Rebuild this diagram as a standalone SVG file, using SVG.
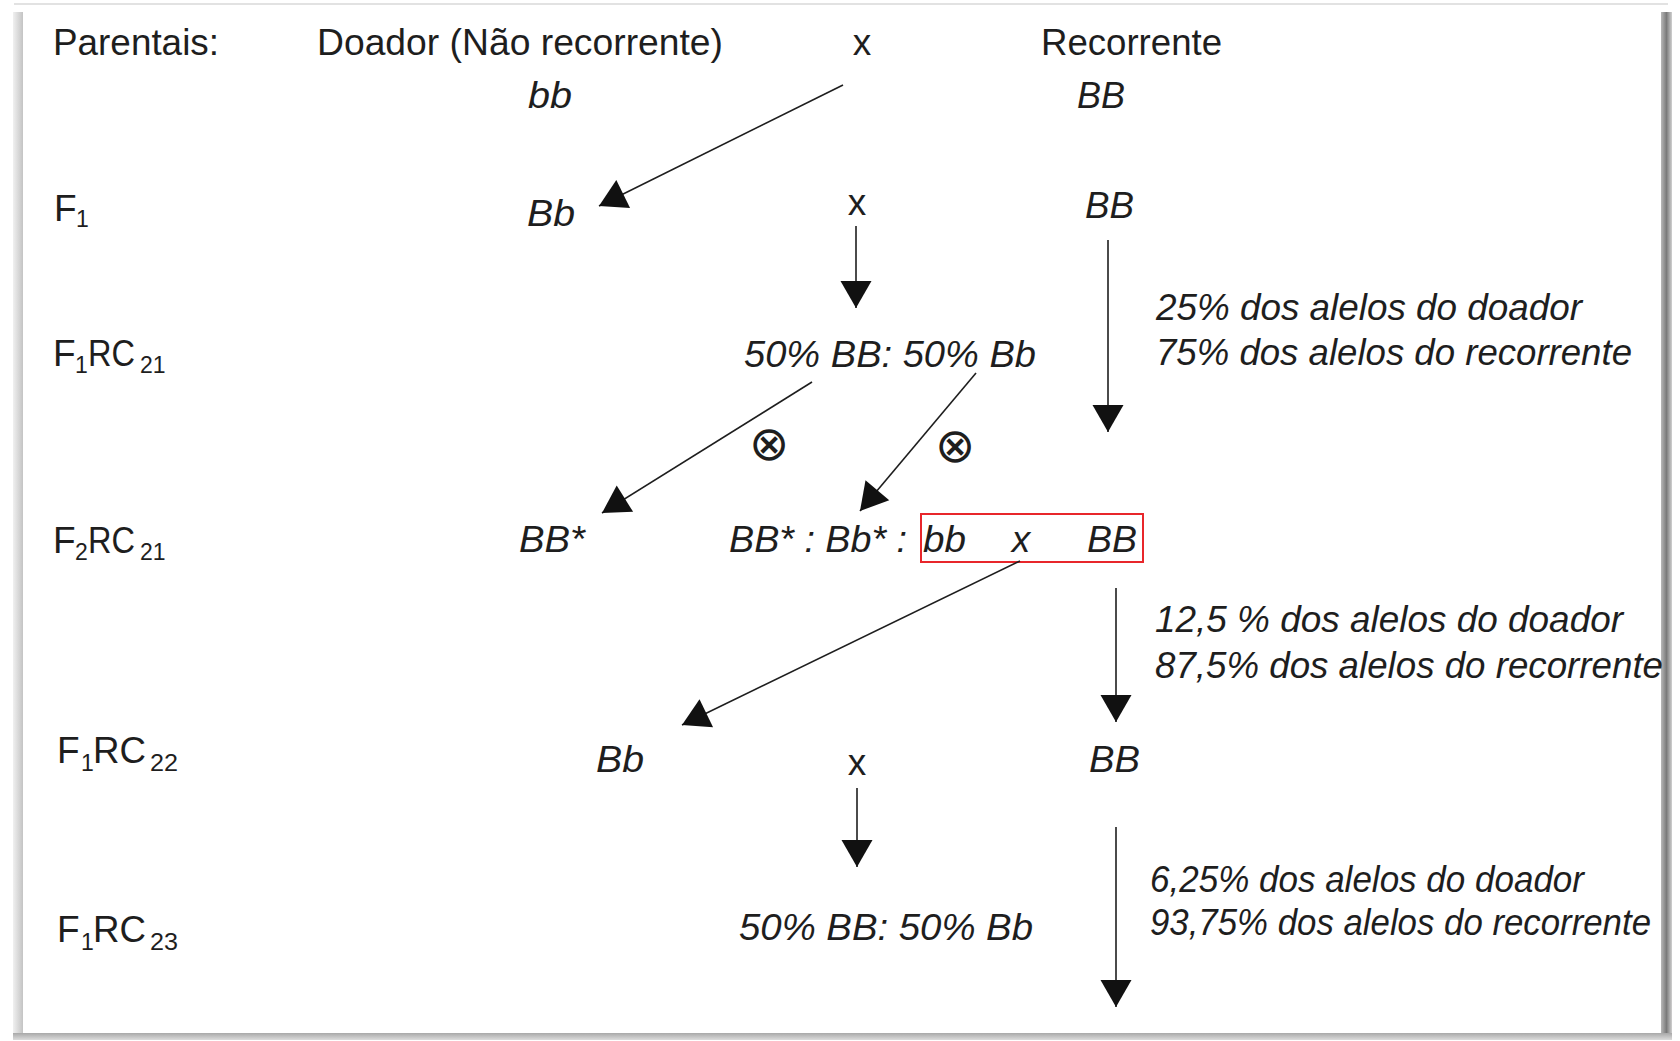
<svg xmlns="http://www.w3.org/2000/svg" width="1680" height="1041" viewBox="0 0 1680 1041">
<defs>
<style>
text{font-family:"Liberation Sans",Arial,sans-serif;font-size:37px;fill:#1e1e1e}
.i{font-style:italic}
.sub{font-size:23px}
.sym{font-family:"DejaVu Sans",sans-serif;font-size:48px;text-anchor:middle}
.mid{text-anchor:middle}
.conn line{stroke:#1e1e1e;stroke-width:1.6;fill:none;marker-end:url(#ah)}
</style>
<marker id="ah" markerUnits="userSpaceOnUse" markerWidth="30" markerHeight="32" viewBox="-28 -16 30 32" refX="0" refY="0" orient="auto">
<path d="M0,0 L-27,-15.5 L-27,15.5 Z" fill="#111"/>
</marker>
<linearGradient id="gl" x1="0" y1="0" x2="1" y2="0"><stop offset="0" stop-color="#f0f0f0"/><stop offset="1" stop-color="#c4c4c4"/></linearGradient>
<linearGradient id="gr" x1="0" y1="0" x2="1" y2="0"><stop offset="0" stop-color="#b8b8b8"/><stop offset="0.5" stop-color="#7a7a7a"/><stop offset="1" stop-color="#d0d0d0"/></linearGradient>
<linearGradient id="gb" x1="0" y1="0" x2="0" y2="1"><stop offset="0" stop-color="#a8a8a8"/><stop offset="1" stop-color="#dcdcdc"/></linearGradient>
</defs>
<rect x="0" y="0" width="1680" height="1041" fill="#ffffff"/>
<g id="frame">
<line x1="14" y1="4" x2="1668" y2="4" stroke="#d8d8d8" stroke-width="1.5"/>
<rect x="13" y="12" width="10" height="1027" fill="url(#gl)"/>
<rect x="1661" y="12" width="11" height="1027" fill="url(#gr)"/>
<rect x="13" y="1033" width="1659" height="7" fill="url(#gb)"/>
</g>
<g id="row-parentais">
<text x="53" y="55" textLength="166" lengthAdjust="spacingAndGlyphs">Parentais:</text>
</g>
<g id="doador-label"><text x="317" y="55" textLength="406" lengthAdjust="spacingAndGlyphs">Doador (Não recorrente)</text></g>
<g id="cross-0"><text class="mid" x="862" y="55">x</text></g>
<g id="recorrente-label"><text x="1041" y="55" textLength="181" lengthAdjust="spacingAndGlyphs">Recorrente</text></g>
<g id="p-bb"><text class="i" x="528" y="108" textLength="44" lengthAdjust="spacingAndGlyphs">bb</text></g>
<g id="p-BB"><text class="i" x="1077" y="108" textLength="48" lengthAdjust="spacingAndGlyphs">BB</text></g>

<g id="label-F1"><text x="54" y="221">F<tspan class="sub" x="76" y="227">1</tspan></text></g>
<g id="f1-Bb"><text class="i" x="527" y="226" textLength="48" lengthAdjust="spacingAndGlyphs">Bb</text></g>
<g id="cross-1"><text class="mid" x="857" y="215">x</text></g>
<g id="f1-BB"><text class="i" x="1085" y="218" textLength="49" lengthAdjust="spacingAndGlyphs">BB</text></g>

<g id="label-F1RC21"><text x="53" y="366">F<tspan class="sub" x="75" y="373">1</tspan><tspan x="88" y="366" textLength="47" lengthAdjust="spacingAndGlyphs">RC</tspan><tspan class="sub" x="140" y="373">21</tspan></text></g>
<g id="rc21-pop"><text class="i" x="744" y="367" textLength="292" lengthAdjust="spacingAndGlyphs">50% BB: 50% Bb</text></g>
<g id="note-1">
<text class="i" x="1156" y="320" textLength="426" lengthAdjust="spacingAndGlyphs">25% dos alelos do doador</text>
<text class="i" x="1156" y="365" textLength="476" lengthAdjust="spacingAndGlyphs">75% dos alelos do recorrente</text>
</g>
<g id="self-1"><text class="sym" x="769" y="460">⊗</text></g>
<g id="self-2"><text class="sym" x="955" y="462">⊗</text></g>

<g id="label-F2RC21"><text x="53" y="553">F<tspan class="sub" x="75" y="560">2</tspan><tspan x="88" y="553" textLength="47" lengthAdjust="spacingAndGlyphs">RC</tspan><tspan class="sub" x="140" y="560">21</tspan></text></g>
<g id="f2-BBstar"><text class="i" x="519" y="552" textLength="66" lengthAdjust="spacingAndGlyphs">BB*</text></g>
<g id="f2-seg"><text class="i" x="729" y="552" textLength="178" lengthAdjust="spacingAndGlyphs">BB* : Bb* :</text></g>
<g id="f2-cross">
<rect x="921" y="514" width="222" height="48" fill="none" stroke="#e8262b" stroke-width="2"/>
<text class="i" x="923" y="552" textLength="43" lengthAdjust="spacingAndGlyphs">bb</text>
<text class="i mid" x="1021" y="552">x</text>
<text class="i" x="1087" y="552" textLength="50" lengthAdjust="spacingAndGlyphs">BB</text>
</g>
<g id="note-2">
<text class="i" x="1155" y="632" textLength="468" lengthAdjust="spacingAndGlyphs">12,5 % dos alelos do doador</text>
<text class="i" x="1155" y="678" textLength="508" lengthAdjust="spacingAndGlyphs">87,5% dos alelos do recorrente</text>
</g>

<g id="label-F1RC22"><text x="57" y="763">F<tspan class="sub" x="81" y="771">1</tspan><tspan x="93" y="763" textLength="53" lengthAdjust="spacingAndGlyphs">RC</tspan><tspan class="sub" x="150" y="771" textLength="28" lengthAdjust="spacingAndGlyphs">22</tspan></text></g>
<g id="rc22-Bb"><text class="i" x="596" y="772" textLength="48" lengthAdjust="spacingAndGlyphs">Bb</text></g>
<g id="cross-2"><text class="mid" x="857" y="775">x</text></g>
<g id="rc22-BB"><text class="i" x="1089" y="772" textLength="51" lengthAdjust="spacingAndGlyphs">BB</text></g>
<g id="note-3">
<text class="i" x="1150" y="892" textLength="434" lengthAdjust="spacingAndGlyphs">6,25% dos alelos do doador</text>
<text class="i" x="1150" y="935" textLength="501" lengthAdjust="spacingAndGlyphs">93,75% dos alelos do recorrente</text>
</g>

<g id="label-F1RC23"><text x="57" y="942">F<tspan class="sub" x="81" y="950">1</tspan><tspan x="93" y="942" textLength="53" lengthAdjust="spacingAndGlyphs">RC</tspan><tspan class="sub" x="150" y="950" textLength="28" lengthAdjust="spacingAndGlyphs">23</tspan></text></g>
<g id="rc23-pop"><text class="i" x="739" y="940" textLength="294" lengthAdjust="spacingAndGlyphs">50% BB: 50% Bb</text></g>

<g id="connectors" class="conn">
<line x1="843" y1="85" x2="599" y2="206"/>
<line x1="856" y1="226" x2="856" y2="308"/>
<line x1="1108" y1="240" x2="1108" y2="432"/>
<line x1="812" y1="382" x2="602" y2="513"/>
<line x1="976" y1="373" x2="860" y2="511"/>
<line x1="1020" y1="561" x2="682" y2="725"/>
<line x1="1116" y1="588" x2="1116" y2="722"/>
<line x1="857" y1="788" x2="857" y2="867"/>
<line x1="1116" y1="827" x2="1116" y2="1007"/>
</g>
</svg>
